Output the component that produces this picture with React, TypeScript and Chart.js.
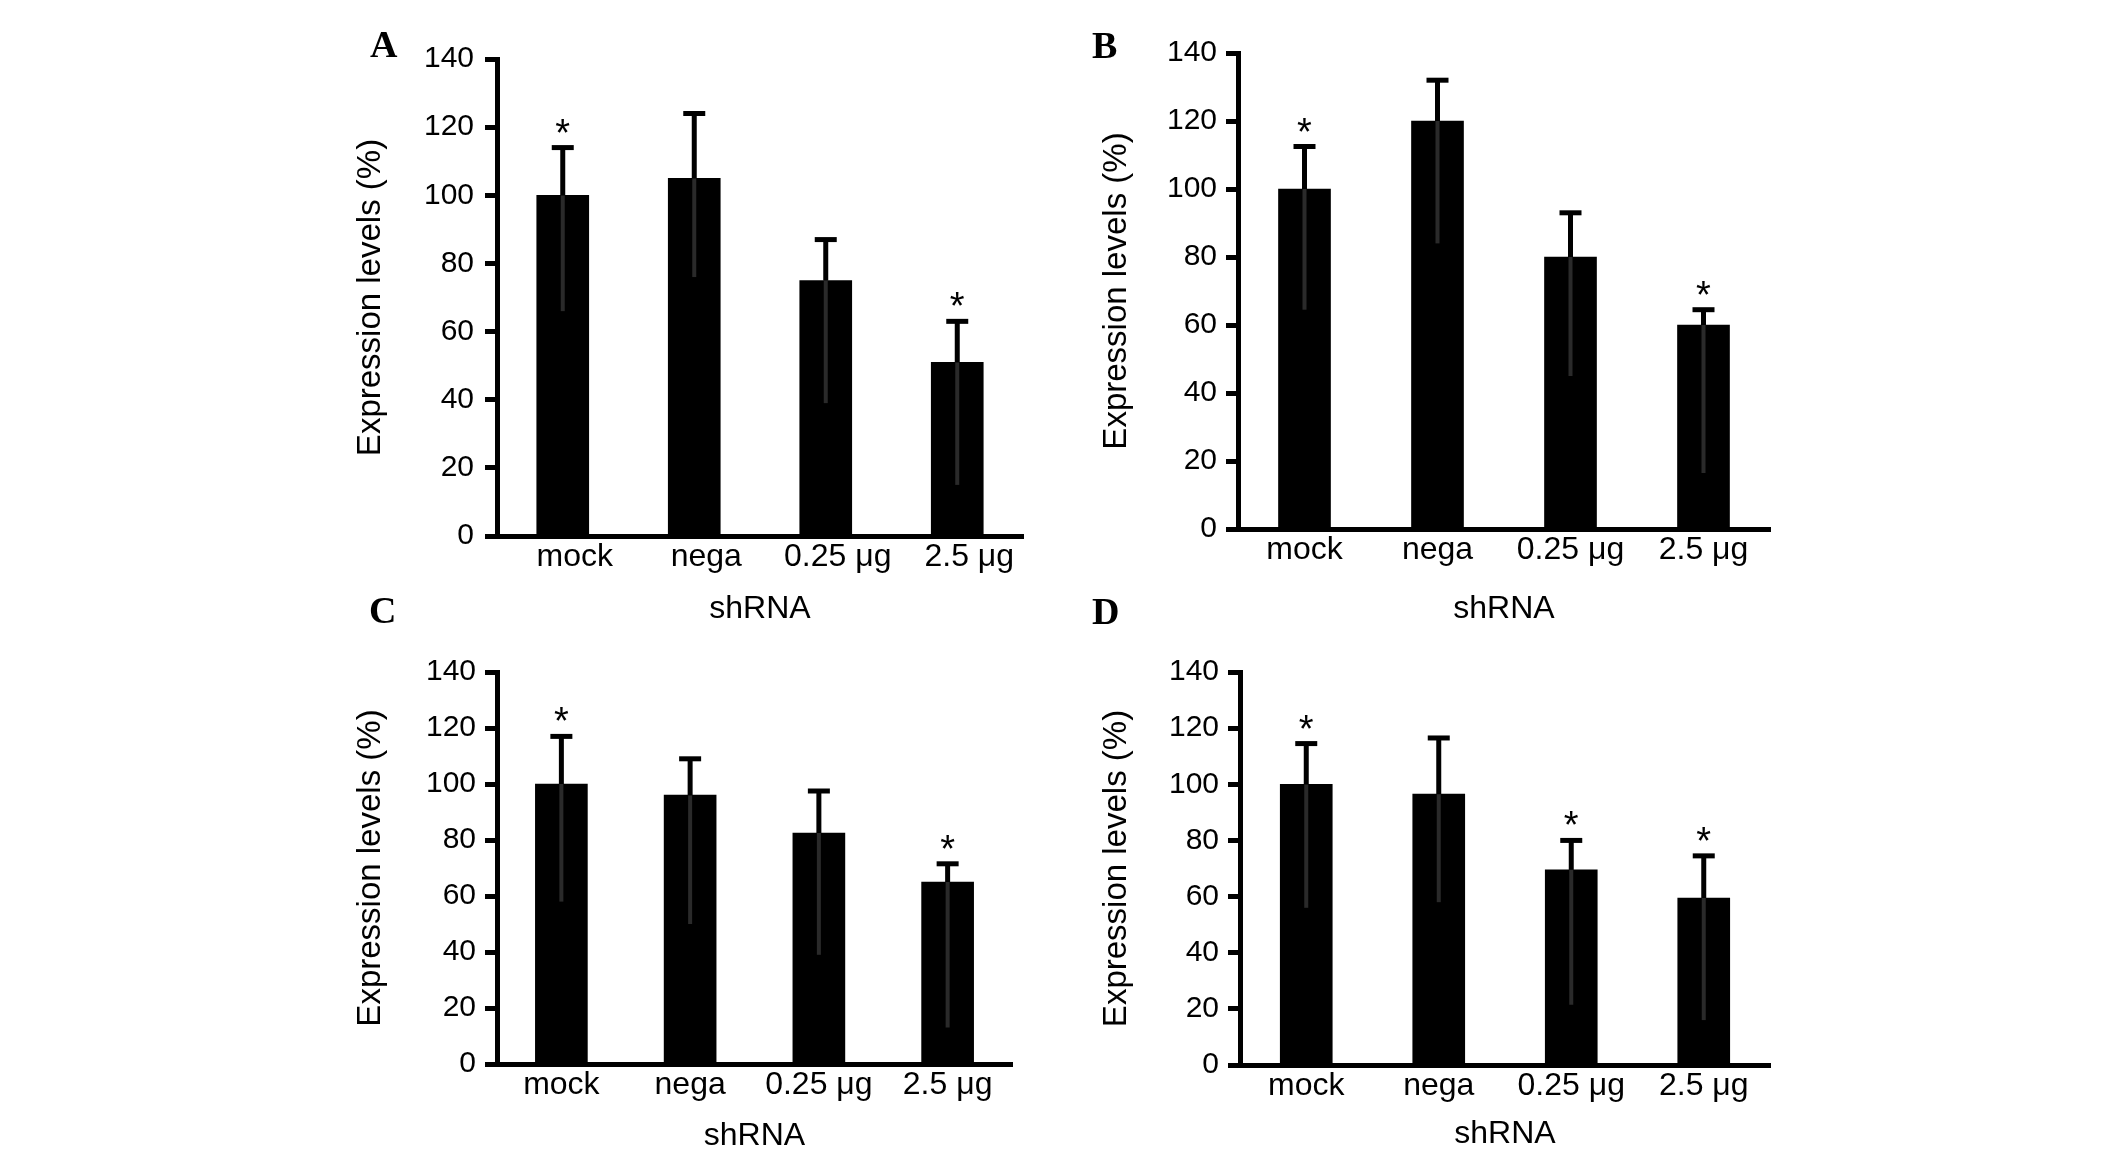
import { useEffect, useRef } from "react"
import { Chart, registerables } from "chart.js"

Chart.register(...registerables)

const categories = ["mock", "nega", "0.25 μg", "2.5 μg"]
const yMin = 0
const yMax = 140
const yStep = 20

// panel A
const meansA = [100, 105, 75, 51]
const capsA = [114, 124, 87, 63]
const lowsA = [66, 76, 39, 15]
const starsA = [true, false, false, true]

// panel B
const meansB = [100, 120, 80, 60]
const capsB = [112.5, 132, 93, 64.5]
const lowsB = [64.5, 84, 45, 16.5]
const starsB = [true, false, false, true]

// panel C
const meansC = [100, 96, 82.5, 65]
const capsC = [117, 109, 97.5, 71.5]
const lowsC = [58, 50, 39, 13]
const starsC = [true, false, false, true]

// panel D
const meansD = [100, 96.5, 69.5, 59.5]
const capsD = [114.5, 116.5, 80, 74.5]
const lowsD = [56, 58, 21.5, 16]
const starsD = [true, false, true, true]

const SANS = "'Liberation Sans', Arial, Helvetica, sans-serif"
const SERIF = "'Liberation Serif', 'Times New Roman', serif"

interface PanelProps {
  means: number[]
  caps: number[]
  lows: number[]
  stars: boolean[]
  left: number
  top: number
  width: number
  height: number
  yScaleWidth: number
  padTop: number
  padRight: number
  xScaleHeight: number
  tickPad: number
  yTitlePad: number
  labelShift: number
}

function Panel(props: PanelProps) {
  const chartRef = useRef<HTMLCanvasElement>(null)
  const chartInstance = useRef<Chart | null>(null)

  useEffect(() => {
    if (!chartRef.current) return
    if (chartInstance.current) chartInstance.current.destroy()

    const { means, caps, lows, stars } = props

    const errorBars = {
      id: "errorBars",
      afterDatasetsDraw(chart: Chart) {
        const ctx = chart.ctx
        const y = chart.scales.y
        const bars = chart.getDatasetMeta(0).data
        const line = (x1: number, y1: number, x2: number, y2: number) => {
          ctx.beginPath()
          ctx.moveTo(x1, y1)
          ctx.lineTo(x2, y2)
          ctx.stroke()
        }
        ctx.save()
        bars.forEach((bar, i) => {
          const x = bar.x
          const yMean = y.getPixelForValue(means[i])
          const yCap = y.getPixelForValue(caps[i])
          const yLow = y.getPixelForValue(lows[i])
          // lower half of the error bar sits inside the black bar
          ctx.strokeStyle = "#2a2a2a"
          ctx.lineWidth = 4
          line(x, yMean, x, yLow)
          ctx.strokeStyle = "#000"
          ctx.lineWidth = 5
          line(x, yMean, x, yCap)
          line(x - 11, yCap, x + 11, yCap)
          if (stars[i]) {
            ctx.fillStyle = "#000"
            ctx.font = `38px ${SANS}`
            ctx.textAlign = "center"
            ctx.textBaseline = "alphabetic"
            ctx.fillText("*", x, yCap - 2)
          }
        })
        ctx.restore()
      },
    }

    chartInstance.current = new Chart(chartRef.current, {
      type: "bar",
      data: {
        labels: categories,
        datasets: [
          {
            data: means,
            backgroundColor: "#000",
            borderWidth: 0,
            barThickness: 52,
          },
        ],
      },
      options: {
        responsive: false,
        maintainAspectRatio: false,
        animation: false,
        layout: {
          padding: { left: 0, top: props.padTop, right: props.padRight, bottom: 0 },
        },
        plugins: {
          legend: { display: false },
          tooltip: { enabled: false },
        },
        scales: {
          x: {
            offset: true,
            grid: { display: false, drawTicks: false },
            border: { display: true, color: "#000", width: 5 },
            ticks: {
              color: "#000",
              font: { family: SANS, size: 32 },
              padding: 2,
              labelOffset: props.labelShift,
              maxRotation: 0,
              autoSkip: false,
            },
            title: {
              display: true,
              text: "shRNA",
              color: "#000",
              font: { family: SANS, size: 32 },
              padding: { top: 0, bottom: 0 },
            },
            afterFit: (scale) => {
              scale.height = props.xScaleHeight
            },
          },
          y: {
            min: yMin,
            max: yMax,
            grid: {
              display: true,
              drawOnChartArea: false,
              drawTicks: true,
              tickLength: 12,
              tickWidth: 5,
              tickColor: "#000",
            },
            border: { display: true, color: "#000", width: 5 },
            ticks: {
              stepSize: yStep,
              color: "#000",
              font: { family: SANS, size: 30 },
              padding: props.tickPad,
            },
            title: {
              display: true,
              text: "Expression levels (%)",
              color: "#000",
              font: { family: SANS, size: 33 },
              padding: { top: props.yTitlePad, bottom: 0 },
            },
            afterFit: (scale) => {
              scale.width = props.yScaleWidth
            },
          },
        },
      },
      plugins: [errorBars],
    })

    return () => {
      if (chartInstance.current) {
        chartInstance.current.destroy()
        chartInstance.current = null
      }
    }
  }, [props])

  return (
    <div style={{ position: "absolute", left: props.left, top: props.top, width: props.width, height: props.height }}>
      <canvas ref={chartRef} width={props.width} height={props.height} style={{ display: "block" }} />
    </div>
  )
}

function Letter({ text, left, top }: { text: string; left: number; top: number }) {
  return (
    <div
      style={{
        position: "absolute",
        left,
        top,
        fontFamily: SERIF,
        fontWeight: "bold",
        fontSize: 38,
        lineHeight: "38px",
        color: "#000",
      }}
    >
      {text}
    </div>
  )
}

export default function App() {
  return (
    <div
      style={{
        position: "absolute",
        left: 0,
        top: 0,
        width: 2126,
        height: 1158,
        background: "#fff",
        overflow: "hidden",
      }}
    >
      <Panel
        means={meansA} caps={capsA} lows={lowsA} stars={starsA}
        left={340} top={0} width={700} height={628}
        yScaleWidth={157} padTop={59} padRight={17} xScaleHeight={92}
        tickPad={11} yTitlePad={11} labelShift={12}
      />
      <Panel
        means={meansB} caps={capsB} lows={lowsB} stars={starsB}
        left={1080} top={0} width={720} height={628}
        yScaleWidth={158} padTop={53} padRight={30} xScaleHeight={99}
        tickPad={9} yTitlePad={17} labelShift={0}
      />
      <Panel
        means={meansC} caps={capsC} lows={lowsC} stars={starsC}
        left={340} top={640} width={700} height={515}
        yScaleWidth={157} padTop={32} padRight={28} xScaleHeight={91}
        tickPad={9} yTitlePad={11} labelShift={0}
      />
      <Panel
        means={meansD} caps={capsD} lows={lowsD} stars={starsD}
        left={1080} top={640} width={720} height={513}
        yScaleWidth={160} padTop={32} padRight={30} xScaleHeight={88}
        tickPad={9} yTitlePad={17} labelShift={0}
      />
      <Letter text="A" left={370} top={25} />
      <Letter text="B" left={1092} top={26} />
      <Letter text="C" left={369} top={591} />
      <Letter text="D" left={1092} top={592} />
    </div>
  )
}
